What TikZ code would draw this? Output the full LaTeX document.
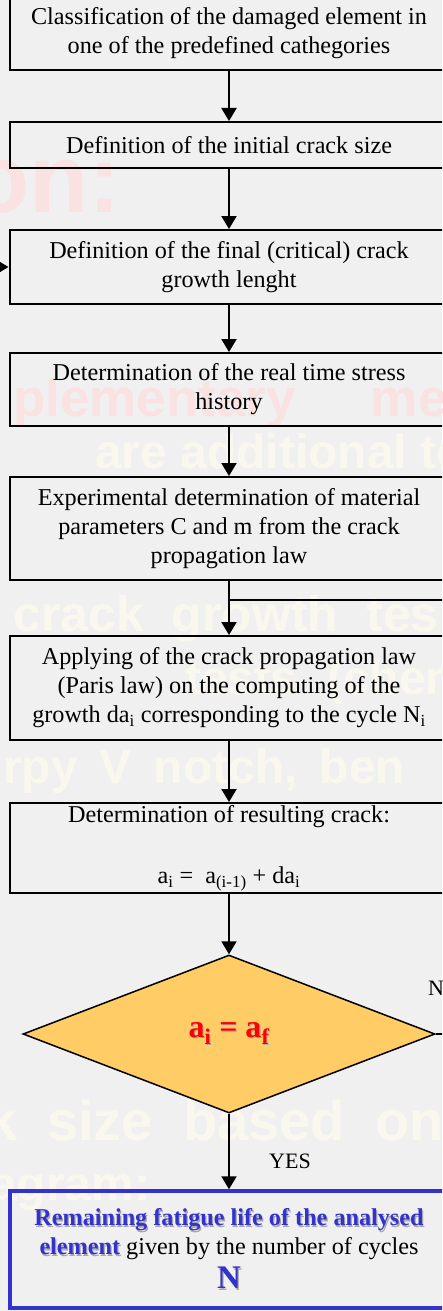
\documentclass[tikz,border=0pt]{standalone}
\usepackage{fontspec}
\setmainfont{Liberation Serif}
\newfontfamily\slidefont{Liberation Sans}
\usetikzlibrary{arrows.meta,shapes.geometric}
\definecolor{slidebg}{HTML}{F0F0F0}
\definecolor{ghostpink}{HTML}{FAE2E2}
\definecolor{ghostcream}{HTML}{FAF8EE}
\definecolor{decision}{HTML}{FFCC66}
\definecolor{resultblue}{HTML}{3333CC}
\definecolor{shadowgrey}{HTML}{A8A8A8}
\newcommand\castshadow[2]{\makebox[0pt][l]{\kern1.2pt\raisebox{-1.2pt}{\textcolor{shadowgrey}{#2}}}\textcolor{#1}{#2}}

\begin{document}
\begin{tikzpicture}[x=1pt,y=-1pt,
  every node/.style={font=\fontsize{24.2}{29}\selectfont},
  stepbox/.style={draw,line width=2pt,align=center,minimum width=439pt,inner sep=0pt},
  ghost/.style={anchor=base west,inner sep=0pt,text=ghostcream,font=\slidefont\bfseries\fontsize{48}{48}\selectfont},
  flow/.style={line width=2pt,-{Triangle[width=15pt,length=13pt]}},
  tie/.style={line width=2pt},
  lbl/.style={anchor=base west,inner sep=0pt,font=\fontsize{22}{22}\selectfont}]
\useasboundingbox (0,0) rectangle (442,1311);
\clip (0,0) rectangle (442,1311);
\fill[slidebg] (0,0) rectangle (442,1311);
% slide text showing through
\node[ghost,text=ghostpink,font=\slidefont\bfseries\fontsize{97}{97}\selectfont] (g1) at (-30,212) {on:};
\node[ghost,text=ghostpink,font=\slidefont\bfseries\fontsize{53}{53}\selectfont] (g2) at (13,416) {plementary\hspace{75pt}me};
\node[ghost] (g3) at (95,468) {are additional to};
\node[ghost,font=\slidefont\bfseries\fontsize{50}{50}\selectfont] (g4) at (13,631) {crack\hspace{28pt}growth\hspace{28pt}tes};
\node[ghost] (g5) at (185,694) {tests\hspace{30pt}(chemic};
\node[ghost] (g6) at (3,783) {rpy\hspace{22pt}V\hspace{22pt}notch,\hspace{22pt}ben};
\node[ghost,font=\slidefont\bfseries\fontsize{56}{56}\selectfont] (g7) at (-14,1140) {k\hspace{30pt}size\hspace{30pt}based\hspace{30pt}on};
\node[ghost] (g8) at (-10,1200) {agram:};

\node[stepbox,minimum height=74pt] (cls) at (229,33) {Classification of the damaged element in\\ one of the predefined cathegories};
\node[stepbox,minimum height=46pt] (init) at (229,145) {Definition of the initial crack size};
\node[stepbox,minimum height=74pt] (final) at (229,267) {Definition of the final (critical) crack\\ growth lenght};
\node[stepbox,minimum height=73pt] (stress) at (229,389.5) {Determination of the real time stress\\ history};
\node[stepbox,minimum height=103pt] (param) at (229,528.5) {Experimental determination of material\\ parameters C and m from the crack\\ propagation law};
\node[stepbox,minimum height=104pt] (paris) at (229,688) {Applying of the crack propagation law\\ (Paris law) on the computing of the\\ growth da\textsubscript{i} corresponding to the cycle N\textsubscript{i}};
\node[stepbox,minimum height=90pt] (result) at (229,848) {Determination of resulting crack:\\[32pt] a\textsubscript{i} =\ \ a\textsubscript{(i-1)} + da\textsubscript{i}};
\node[draw,line width=1.5pt,fill=decision,shape=diamond,minimum width=412pt,minimum height=158pt,inner sep=0pt] (test) at (229,1034) {\fontsize{32}{32}\selectfont\bfseries\castshadow{red}{a\textsubscript{i} = a\textsubscript{f}}};
\node[draw=resultblue,line width=3.5pt,align=center,minimum width=438pt,minimum height=117pt,inner sep=0pt] (life) at (229,1249.5) {\castshadow{resultblue}{\textbf{Remaining fatigue life of the analysed}}\\ \castshadow{resultblue}{\textbf{element}} given by the number of cycles\\[5pt] \castshadow{resultblue}{\fontsize{33}{33}\selectfont\textbf{N}}};

\node[lbl] (no) at (428,995) {NO};
\node[lbl] (yes) at (269,1168) {YES};

\coordinate (loopin) at (-10,267);
\coordinate (loopback) at (450,600);
\coordinate (noexit) at (450,1034);

\draw[flow] (cls) -- (init);
\draw[flow] (init) -- (final);
\draw[flow] (loopin) -- (final.west);
\draw[flow] (final) -- (stress);
\draw[flow] (stress) -- (param);
\draw[flow] (param) -- (paris);
\draw[tie] (loopback) -- (param.south |- loopback);
\draw[flow] (paris) -- (result);
\draw[flow] (result) -- (test);
\draw[tie] (test.east) -- (noexit);
\draw[flow] (test) -- (life);
\end{tikzpicture}
\end{document}
